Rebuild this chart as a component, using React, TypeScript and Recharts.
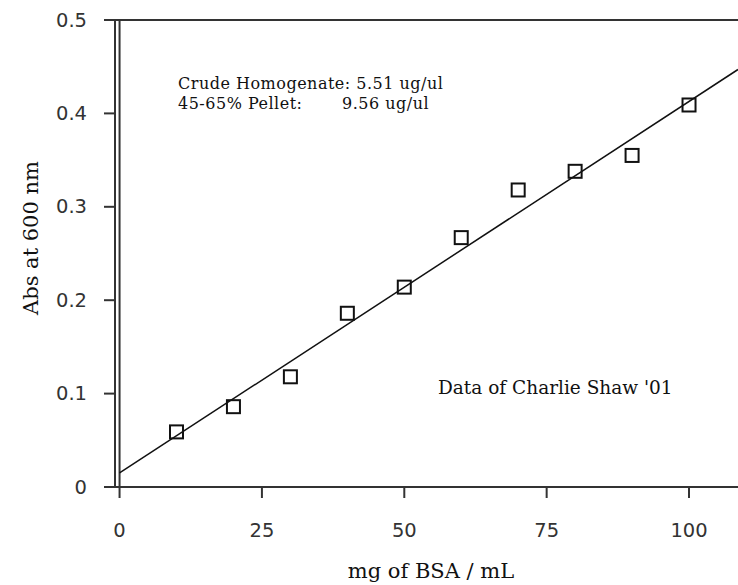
import React from 'react';
import { ComposedChart, Scatter, Line, XAxis, YAxis, ReferenceLine } from 'recharts';

const bsaConc = [10, 20, 30, 40, 50, 60, 70, 80, 90, 100];
const absorbance = [0.059, 0.086, 0.118, 0.186, 0.214, 0.267, 0.318, 0.338, 0.355, 0.409];
const fitX = [0, 108.6];
const fitY = [0.015, 0.447];
const xTicks = [0, 25, 50, 75, 100];
const yTicks = [0, 0.1, 0.2, 0.3, 0.4, 0.5];
const yTickLabels = ['0', '0.1', '0.2', '0.3', '0.4', '0.5'];
const noteLines = ['Crude Homogenate: 5.51 ug/ul', '45-65% Pellet:', '9.56 ug/ul'];
const credit = "Data of Charlie Shaw '01";
const xTitle = 'mg of BSA / mL';
const yTitle = 'Abs at 600 nm';

const points = bsaConc.map((x, i) => ({ x, y: absorbance[i] }));
const fitData = fitX.map((x, i) => ({ x, y: fitY[i] }));

const AXIS = '#333';
const SERIF = '"DejaVu Serif", serif';
const SANS = '"DejaVu Sans", sans-serif';

const SquareShape = (props: any) => {
  const { cx, cy } = props;
  if (cx == null || cy == null) return null;
  return <rect x={cx - 6.5} y={cy - 6.5} width={13} height={13} fill="none" stroke="#111" strokeWidth={2} />;
};

const YTick = (props: any) => {
  const { x, y, payload } = props;
  const idx = yTicks.indexOf(payload.value);
  return (
    <text x={x} y={y} dy={6.5} textAnchor="end" fontSize={19.5} fontFamily={SANS} fill="#333">
      {idx >= 0 ? yTickLabels[idx] : payload.value}
    </text>
  );
};

const XTick = (props: any) => {
  const { x, y, payload } = props;
  return (
    <text x={x} y={y} dy={14.5} textAnchor="middle" fontSize={19.5} fontFamily={SANS} fill="#333">
      {payload.value}
    </text>
  );
};

export default function App() {
  return (
    <div style={{ position: 'absolute', left: 0, top: 0, background: '#fff' }}>
      <ComposedChart width={738} height={585} margin={{ top: 20, right: 0, bottom: 0, left: 0 }}>
        <XAxis
          type="number"
          dataKey="x"
          domain={[-0.8, 108.6]}
          ticks={xTicks}
          allowDataOverflow
          tickSize={11}
          tickMargin={24}
          height={98}
          stroke={AXIS}
          strokeWidth={2}
          tick={<XTick />}
        />
        <YAxis
          type="number"
          dataKey="y"
          domain={[0, 0.5]}
          ticks={yTicks}
          allowDataOverflow
          width={115}
          tickSize={11}
          tickMargin={17}
          stroke={AXIS}
          strokeWidth={2}
          tick={<YTick />}
        />
        <ReferenceLine y={0.5} stroke={AXIS} strokeWidth={2} />
        <ReferenceLine x={0} stroke={AXIS} strokeWidth={2} />
        <Line
          data={fitData}
          dataKey="y"
          type="linear"
          stroke="#111"
          strokeWidth={1.5}
          dot={false}
          activeDot={false}
          isAnimationActive={false}
        />
        <Scatter data={points} dataKey="y" shape={<SquareShape />} isAnimationActive={false} />
        <text x={178} y={89} fontSize={16} letterSpacing={0.5} fontFamily={SERIF} fill="#111">{noteLines[0]}</text>
        <text x={178} y={109} fontSize={16} letterSpacing={0.5} fontFamily={SERIF} fill="#111">{noteLines[1]}</text>
        <text x={342} y={109} fontSize={16} letterSpacing={0.5} fontFamily={SERIF} fill="#111">{noteLines[2]}</text>
        <text x={438} y={394} fontSize={18.5} fontFamily={SERIF} fill="#111">{credit}</text>
        <text x={431} y={578} textAnchor="middle" fontSize={21} fontFamily={SERIF} fill="#111">{xTitle}</text>
        <text x={38} y={238} textAnchor="middle" fontSize={21} fontFamily={SERIF} fill="#111" transform="rotate(-90 38 238)">{yTitle}</text>
      </ComposedChart>
    </div>
  );
}
